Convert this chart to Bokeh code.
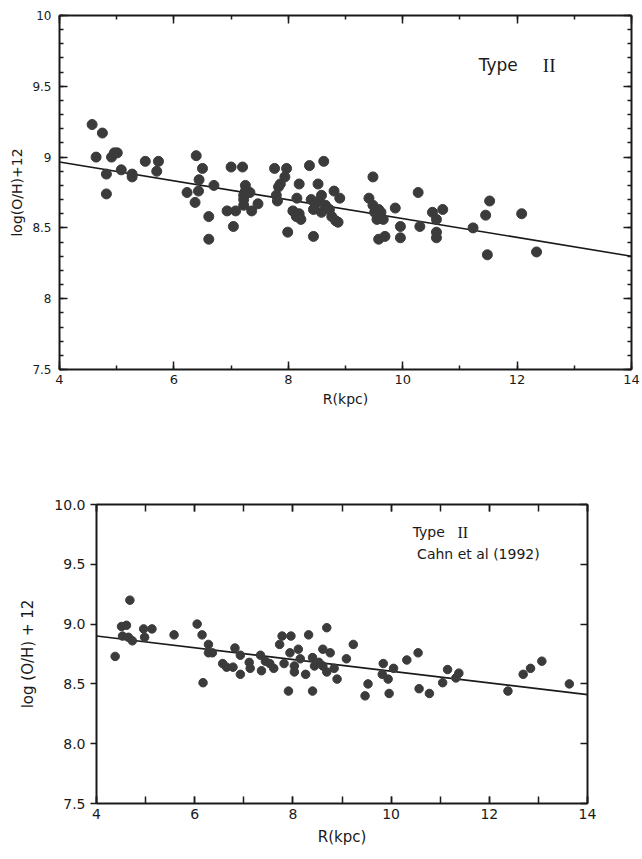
from bokeh.plotting import figure
from bokeh.models import (LinearAxis, Label, SingleIntervalTicker, Range1d,
                          CustomJSTickFormatter, PrintfTickFormatter, CustomLabelingPolicy)
from bokeh.embed import file_html
from bokeh.resources import INLINE

# ---------------- data ----------------
# Top panel: Type II planetary nebulae
top_r = [4.57, 4.75, 4.64, 4.82, 4.82, 4.91, 4.96, 5.01, 5.08, 5.27, 5.27, 5.50, 5.73, 5.70,
         6.39, 6.23, 6.50, 6.44, 6.43, 6.37, 6.70, 6.61, 6.61, 7.00, 7.20, 7.04,
         6.93, 7.08, 7.22, 7.25, 7.22, 7.22, 7.25, 7.33, 7.36, 7.47,
         7.76, 7.97, 7.94, 7.86, 7.83, 7.79, 7.81, 7.99,
         8.19, 8.15, 8.08, 8.19, 8.22, 8.14, 8.37, 8.52, 8.62, 8.44,
         8.40, 8.47, 8.54, 8.58, 8.65, 8.44, 8.58, 8.72, 8.76, 8.83, 8.87, 8.80, 8.90,
         9.41, 9.48, 9.48, 9.51, 9.55, 9.62, 9.66, 9.58, 9.58, 9.69,
         9.87, 9.96, 9.96, 10.27, 10.30, 10.52, 10.59, 10.70, 10.59, 10.59,
         11.23, 11.45, 11.52, 11.48, 12.08, 12.34]
top_oh = [9.23, 9.17, 9.00, 8.88, 8.74, 9.00, 9.03, 9.03, 8.91, 8.88, 8.86, 8.97, 8.97, 8.90,
          9.01, 8.75, 8.92, 8.84, 8.76, 8.68, 8.80, 8.58, 8.42, 8.93, 8.93, 8.51,
          8.62, 8.62, 8.66, 8.80, 8.73, 8.70, 8.76, 8.75, 8.62, 8.67,
          8.92, 8.92, 8.86, 8.81, 8.79, 8.73, 8.69, 8.47,
          8.81, 8.71, 8.62, 8.60, 8.56, 8.58, 8.94, 8.81, 8.97, 8.44,
          8.70, 8.67, 8.69, 8.73, 8.66, 8.63, 8.61, 8.63, 8.58, 8.55, 8.54, 8.76, 8.71,
          8.71, 8.86, 8.66, 8.61, 8.56, 8.61, 8.56, 8.63, 8.42, 8.44,
          8.64, 8.51, 8.43, 8.75, 8.51, 8.61, 8.56, 8.63, 8.47, 8.43,
          8.50, 8.59, 8.69, 8.31, 8.60, 8.33]
top_fit_r = [4, 14]
top_fit_oh = [8.965, 8.30]

# Bottom panel: Type II, Cahn et al (1992)
bot_r = [4.38, 4.68, 4.51, 4.61, 4.53, 4.65, 4.73, 4.96, 5.13, 4.98, 5.58,
         6.05, 6.15, 6.28, 6.28, 6.36, 6.17,
         6.57, 6.65, 6.78, 6.82, 6.93, 6.93,
         7.11, 7.13, 7.34, 7.36, 7.44, 7.53, 7.61,
         7.73, 7.78, 7.82, 7.91, 7.96, 7.94,
         8.03, 8.03, 8.11, 8.15, 8.26, 8.32, 8.40,
         8.40, 8.44, 8.53, 8.61, 8.61, 8.69, 8.69, 8.76, 8.84, 8.90,
         9.09, 9.23, 9.47, 9.53,
         9.84, 9.82, 9.94, 9.96, 10.05,
         10.32, 10.55, 10.57, 10.78,
         11.05, 11.15, 11.32, 11.38,
         12.38, 12.69, 12.84, 13.07, 13.63]
bot_oh = [8.73, 9.20, 8.98, 8.99, 8.90, 8.89, 8.86, 8.96, 8.96, 8.89, 8.91,
          9.00, 8.91, 8.83, 8.76, 8.76, 8.51,
          8.67, 8.64, 8.64, 8.80, 8.74, 8.58,
          8.68, 8.63, 8.74, 8.61, 8.69, 8.67, 8.63,
          8.83, 8.90, 8.67, 8.44, 8.90, 8.76,
          8.60, 8.65, 8.79, 8.71, 8.58, 8.91, 8.44,
          8.72, 8.65, 8.68, 8.79, 8.65, 8.60, 8.97, 8.76, 8.63, 8.54,
          8.71, 8.83, 8.40, 8.50,
          8.67, 8.58, 8.54, 8.42, 8.63,
          8.70, 8.76, 8.46, 8.42,
          8.51, 8.62, 8.55, 8.59,
          8.44, 8.58, 8.63, 8.69, 8.50]
bot_fit_r = [4, 14]
bot_fit_oh = [8.90, 8.41]

x_ticks_major = 2
y_ticks_major = 0.5

FONT = "DejaVu Sans"
INK = "#1a1a1a"
DOT = "#3b3b3b"

no_labels = CustomLabelingPolicy(code="return new Set()")


def style_axis(ax, major_in=8, minor_in=4, major_out=0, labels=True, fsize="12px"):
    ax.axis_line_width = 2
    ax.axis_line_color = INK
    ax.major_tick_in = major_in
    ax.major_tick_out = major_out
    ax.minor_tick_in = minor_in
    ax.minor_tick_out = 0
    ax.major_tick_line_width = 1.5
    ax.minor_tick_line_width = 1.5
    ax.major_tick_line_color = INK
    ax.minor_tick_line_color = INK
    ax.major_label_text_font = FONT
    ax.major_label_text_color = INK
    ax.major_label_text_font_size = fsize
    ax.axis_label_text_font = FONT
    ax.axis_label_text_font_style = "normal"
    ax.axis_label_text_color = INK
    if not labels:
        ax.major_label_policy = no_labels
        ax.major_label_standoff = 0


fmt_top = CustomJSTickFormatter(code="return String(Math.round(tick*10)/10);")
fmt_bot = PrintfTickFormatter(format="%.1f")

# ---------------- top panel ----------------
p1 = figure(frame_width=572, frame_height=354, output_backend="svg",
            toolbar_location=None, x_range=Range1d(4, 14), y_range=Range1d(7.5, 10),
            min_border_left=59, min_border_top=15, min_border_right=4,
            min_border_bottom=60, x_axis_location=None, y_axis_location=None)
p1.grid.visible = False
p1.outline_line_color = None

for loc, lab in (("below", True), ("above", False)):
    ax = LinearAxis(ticker=SingleIntervalTicker(interval=x_ticks_major, num_minor_ticks=2))
    style_axis(ax, labels=lab, fsize="13px")
    if lab:
        ax.axis_label = "R(kpc)"
        ax.axis_label_text_font_size = "14px"
        ax.axis_label_standoff = 4
        ax.major_label_standoff = 5
    p1.add_layout(ax, loc)
for loc, lab in (("left", True), ("right", False)):
    ax = LinearAxis(ticker=SingleIntervalTicker(interval=y_ticks_major, num_minor_ticks=5),
                    formatter=fmt_top)
    style_axis(ax, labels=lab, fsize="12px")
    if lab:
        ax.axis_label = "log(O/H)+12"
        ax.axis_label_text_font_size = "14px"
        ax.axis_label_standoff = 4
        ax.major_label_standoff = 8
    p1.add_layout(ax, loc)

p1.line(top_fit_r, top_fit_oh, line_color=INK, line_width=1.6)
p1.scatter(top_r, top_oh, size=10, fill_color=DOT, line_color=DOT)
p1.add_layout(Label(x=11.33, y=9.65, text="Type", text_font=FONT, text_font_size="17px",
                    text_color=INK, text_baseline="middle"))
p1.add_layout(Label(x=12.45, y=9.65, text="II", text_font="Liberation Serif",
                    text_font_size="19px", text_color=INK, text_baseline="middle"))

# ---------------- bottom panel ----------------
p2 = figure(frame_width=491, frame_height=299, output_backend="svg",
            toolbar_location=None, x_range=Range1d(4, 14), y_range=Range1d(7.5, 10),
            min_border_left=96, min_border_top=75, min_border_right=20,
            min_border_bottom=42, x_axis_location=None, y_axis_location=None)
p2.grid.visible = False
p2.outline_line_color = None

for loc, lab in (("below", True), ("above", False)):
    ax = LinearAxis(ticker=SingleIntervalTicker(interval=x_ticks_major, num_minor_ticks=2))
    style_axis(ax, labels=lab, fsize="14px", major_in=7, minor_in=7)
    if lab:
        ax.axis_label = "R(kpc)"
        ax.axis_label_text_font_size = "15px"
        ax.axis_label_standoff = 6
    p2.add_layout(ax, loc)
for loc, lab in (("left", True), ("right", False)):
    ax = LinearAxis(ticker=SingleIntervalTicker(interval=y_ticks_major, num_minor_ticks=0),
                    formatter=fmt_bot)
    if lab:
        style_axis(ax, labels=True, fsize="14px", major_in=0, major_out=6, minor_in=0)
        ax.axis_label = "log (O/H) + 12"
        ax.axis_label_text_font_size = "15px"
        ax.axis_label_standoff = 14
    else:
        style_axis(ax, labels=False, major_in=7, minor_in=0)
    p2.add_layout(ax, loc)

p2.line(bot_fit_r, bot_fit_oh, line_color=INK, line_width=1.6)
p2.scatter(bot_r, bot_oh, size=8.5, fill_color=DOT, line_color=DOT)
p2.add_layout(Label(x=10.44, y=9.77, text="Type", text_font=FONT, text_font_size="14px",
                    text_color=INK, text_baseline="middle"))
p2.add_layout(Label(x=11.35, y=9.77, text="II", text_font="Liberation Serif",
                    text_font_size="16px", text_color=INK, text_baseline="middle"))
p2.add_layout(Label(x=10.53, y=9.59, text="Cahn et al (1992)", text_font=FONT,
                    text_font_size="14px", text_color=INK, text_baseline="middle"))

open("out.html", "w").write(file_html([p1, p2], INLINE))
